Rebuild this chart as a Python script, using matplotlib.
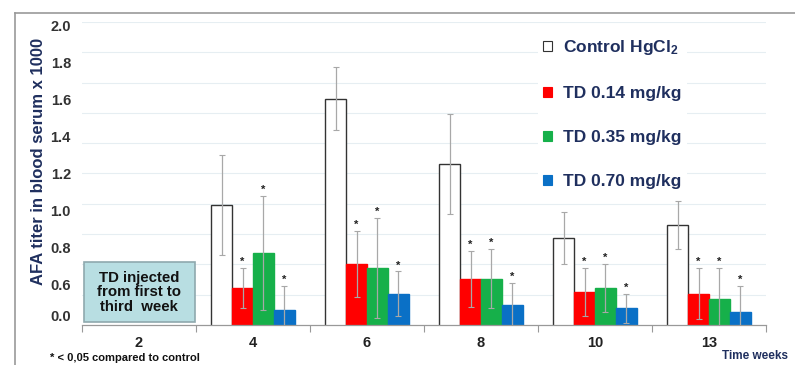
import matplotlib
matplotlib.use("Agg")
import matplotlib.pyplot as plt
import numpy as np
from matplotlib.patches import Patch, Rectangle
from matplotlib.lines import Line2D

plt.rcParams["font.family"] = ["Liberation Sans", "DejaVu Sans"]
plt.rcParams["font.weight"] = "bold"
plt.rcParams["mathtext.fontset"] = "custom"
plt.rcParams["mathtext.rm"] = "Liberation Sans:bold"
plt.rcParams["mathtext.default"] = "rm"

weeks = ["2", "4", "6", "8", "10", "13"]
series_names = ["Control HgCl$_2$", "TD 0.14 mg/kg", "TD 0.35 mg/kg", "TD 0.70 mg/kg"]
nan = np.nan
control = [nan, 1.03, 1.605, 1.25, 0.85, 0.92]
control_sd = [nan, 0.27, 0.17, 0.27, 0.14, 0.13]
td014 = [nan, 0.58, 0.71, 0.63, 0.56, 0.55]
td014_sd = [nan, 0.11, 0.18, 0.15, 0.13, 0.14]
td035 = [nan, 0.77, 0.69, 0.63, 0.58, 0.52]
td035_sd = [nan, 0.31, 0.27, 0.16, 0.13, 0.17]
td070 = [nan, 0.46, 0.55, 0.49, 0.47, 0.45]
td070_sd = [nan, 0.13, 0.12, 0.12, 0.08, 0.14]
significant = [False, True, True, True]

ytick_values = [0.43, 0.6, 0.8, 1.0, 1.2, 1.4, 1.6, 1.8, 2.0]
ytick_labels = ["0.0", "0.6", "0.8", "1.0", "1.2", "1.4", "1.6", "1.8", "2.0"]

means = [control, td014, td035, td070]
sds = [control_sd, td014_sd, td035_sd, td070_sd]
faces = ["white", "#FF0000", "#16B04A", "#0A70C6"]
edges = ["#333333", "#FF0000", "#16B04A", "#0A70C6"]
navy = "#1F2F5E"

fig = plt.figure(figsize=(7.95, 3.65), dpi=100)
ax = fig.add_axes([82 / 795, 40 / 365, 684 / 795, 303 / 365])
ymin, ymax = 0.38, 2.02
ax.set_ylim(ymin, ymax)
ax.set_xlim(-0.5, len(weeks) - 0.5)

# faint background grid
for gy in np.linspace(ymin, ymax, 11)[1:]:
    ax.axhline(gy, color="#E6EEF2", lw=0.8, zorder=0)

x = np.arange(len(weeks))
w = 0.183
for i, (m, s) in enumerate(zip(means, sds)):
    pos = x + (i - 1.5) * w
    ax.bar(pos, m, w, bottom=0, color=faces[i], edgecolor=edges[i], lw=1.0, zorder=2)
    ax.errorbar(pos, m, yerr=s, fmt="none", ecolor="#A8A8A8", elinewidth=0.9,
                capsize=2, capthick=0.8, zorder=3)
    if significant[i]:
        for px, mv, sv in zip(pos, m, s):
            if not np.isnan(mv):
                ax.text(px, mv + sv + 0.005, "*", ha="center", va="bottom",
                        fontsize=8, color="#222222", zorder=4)

ax.set_yticks(ytick_values)
ax.set_yticklabels(ytick_labels, fontsize=10.5, fontweight="bold", color="#333333")
ax.tick_params(axis="y", length=0, pad=8)
ax.set_xticks(x)
ax.set_xticklabels(weeks, fontsize=10.5, fontweight="bold", color="#222222")
ax.set_xticks(np.arange(-0.5, len(weeks)), minor=True)
ax.tick_params(axis="x", which="major", length=0, pad=8)
ax.tick_params(axis="x", which="minor", length=5, color="#999999", width=0.8)
for sp in ["top", "right", "left"]:
    ax.spines[sp].set_visible(False)
ax.spines["bottom"].set_color("#999999")
ax.spines["bottom"].set_linewidth(0.9)

ax.set_ylabel("AFA titer in blood serum x 1000", fontsize=12, fontweight="bold",
              color=navy)
ax.yaxis.set_label_coords(-36 / 684, 0.54)

# annotation box for week 2
ax.add_patch(Rectangle((-0.48, 0.395), 0.97, 0.325, facecolor="#B8DEE2",
                       edgecolor="#8FA9AE", lw=1.2, zorder=3))
ax.text(0.0, 0.557, "TD injected\nfrom first to\nthird  week", ha="center", va="center",
        fontsize=10.8, fontweight="bold", color="#111111", linespacing=1.05, zorder=4)

handles = [Patch(facecolor=faces[i], edgecolor=edges[i], lw=0.8) for i in range(4)]
leg = fig.legend(handles, series_names, loc="upper left", bbox_to_anchor=(529 / 795, 1 - 24 / 365),
                 frameon=True, facecolor="white", edgecolor="none", framealpha=1,
                 fontsize=12.5, handlelength=0.55, handleheight=0.55, handletextpad=0.6,
                 labelspacing=1.68, borderpad=0.3)
for t in leg.get_texts():
    t.set_color(navy)
    t.set_fontweight("bold")

fig.text(50 / 795, 1 - 358 / 365, "* < 0,05 compared to control", fontsize=8,
         fontweight="bold", color="#111111", va="center")
fig.text(722 / 795, 1 - 356 / 365, "Time weeks", fontsize=8.5, fontweight="bold",
         color=navy, va="center")

# outer frame
fig.add_artist(Line2D([15 / 795, 1.0], [1 - 13 / 365, 1 - 13 / 365], color="#999999", lw=1.2))
fig.add_artist(Line2D([15 / 795, 15 / 795], [0.0, 1 - 13 / 365], color="#999999", lw=1.2))

fig.savefig("out.png", dpi=100)
